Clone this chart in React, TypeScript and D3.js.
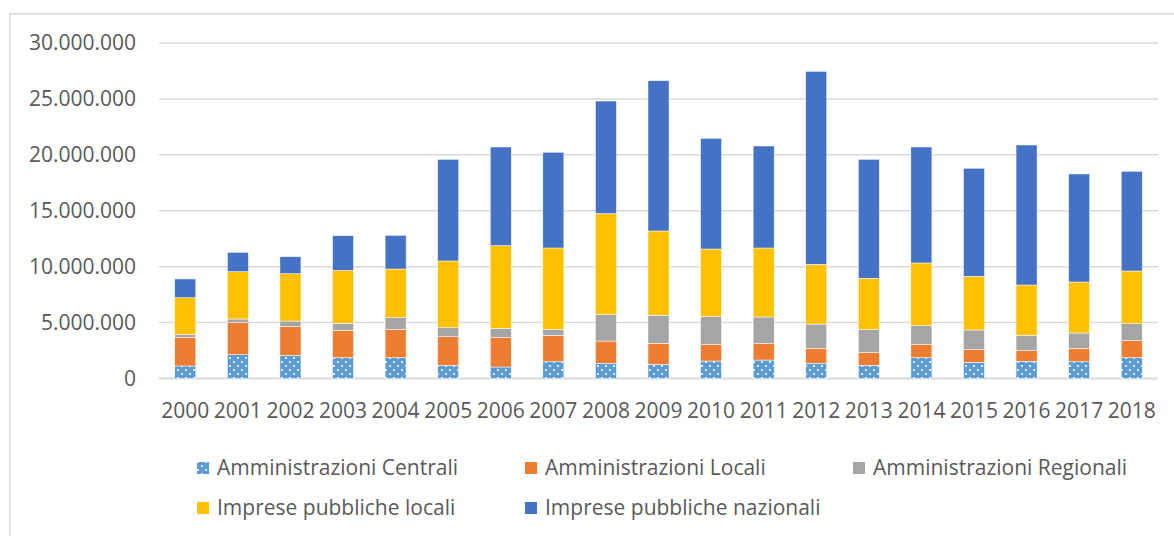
import React from "react";
import * as d3 from "d3";

const years = ["2000","2001","2002","2003","2004","2005","2006","2007","2008","2009","2010","2011","2012","2013","2014","2015","2016","2017","2018"];
const amministrazioniCentrali = [1.12,2.13,2.07,1.86,1.86,1.18,1.03,1.50,1.36,1.27,1.56,1.65,1.36,1.18,1.86,1.45,1.54,1.50,1.86];
const amministrazioniLocali = [2.56,2.86,2.60,2.45,2.54,2.56,2.65,2.36,1.99,1.88,1.50,1.46,1.34,1.16,1.20,1.16,0.95,1.20,1.52];
const amministrazioniRegionali = [0.27,0.33,0.47,0.63,1.04,0.80,0.81,0.54,2.36,2.50,2.50,2.39,2.17,2.06,1.66,1.73,1.37,1.37,1.52];
const impresePubblicheLocali = [3.27,4.23,4.23,4.73,4.35,5.97,7.39,7.27,9.03,7.54,6.02,6.17,5.34,4.56,5.61,4.80,4.50,4.56,4.71];
const impresePubblicheNazionali = [1.68,1.73,1.52,3.10,3.01,9.09,8.82,8.56,10.07,13.44,9.90,9.12,17.26,10.64,10.37,9.66,12.52,9.66,8.92];
const yTicks = [0, 5000000, 10000000, 15000000, 20000000, 25000000, 30000000];

const seriesNames = ["Amministrazioni Centrali","Amministrazioni Locali","Amministrazioni Regionali","Imprese pubbliche locali","Imprese pubbliche nazionali"];
const seriesValues = [amministrazioniCentrali, amministrazioniLocali, amministrazioniRegionali, impresePubblicheLocali, impresePubblicheNazionali];
const colors = ["url(#dots)", "#ED7D31", "#A5A5A5", "#FFC000", "#4472C4"];

const W = 1174, H = 536;
const plotLeft = 159, plotRight = 1158, plotTop = 43, plotBottom = 378.5;
const font = "'Open Sans', sans-serif";
const textColor = "#595959";

function fmt(v: number) {
  return v === 0 ? "0" : d3.format(",")(v).replace(/,/g, ".");
}

export default function App() {
  const x = d3.scaleBand().domain(years).range([plotLeft, plotRight]).paddingInner(0.6).paddingOuter(0.3);
  const y = d3.scaleLinear().domain([0, 30000000]).range([plotBottom, plotTop]);

  const rows = years.map((yr, i) => {
    const o: any = { year: yr };
    seriesNames.forEach((n, k) => (o[n] = seriesValues[k][i] * 1e6));
    return o;
  });
  const stacked = d3.stack().keys(seriesNames)(rows);

  const legendItems = seriesNames.map((n, k) => ({
    name: n,
    color: colors[k],
    x: 197 + (k % 3) * 328,
    y: k < 3 ? 468 : 508,
  }));

  return (
    <svg width={W} height={H} style={{ position: "absolute", left: 0, top: 0, background: "#fff" }}>
      <defs>
        <pattern id="dots" width={8} height={8} patternUnits="userSpaceOnUse">
          <rect width={8} height={8} fill="#5B9BD5" />
          <circle cx={2} cy={2} r={1.1} fill="#fff" />
          <circle cx={6} cy={6} r={1.1} fill="#fff" />
        </pattern>
      </defs>
      <rect x={9.75} y={13.75} width={1200} height={600} fill="#fff" stroke="#D9D9D9" strokeWidth={1.5} />
      {yTicks.map((t) => (
        <g key={t}>
          <line x1={plotLeft} x2={plotRight} y1={y(t)} y2={y(t)} stroke="#D9D9D9" strokeWidth={t === 0 ? 2 : 1.5} />
          <text x={136} y={y(t)} dy="0.35em" textAnchor="end" fontFamily={font} fontSize={21} fill={textColor}>
            {fmt(t)}
          </text>
        </g>
      ))}
      {stacked.map((s, k) => (
        <g key={s.key} fill={colors[k]}>
          {s.map((d, i) => (
            <rect
              key={i}
              x={x(years[i])!}
              width={x.bandwidth()}
              y={y(d[1])}
              height={y(d[0]) - y(d[1])}
              stroke="#fff"
              strokeWidth={0.5}
            />
          ))}
        </g>
      ))}
      {years.map((yr) => (
        <text key={yr} x={x(yr)! + x.bandwidth() / 2} y={411} dy="0.35em" textAnchor="middle" fontFamily={font} fontSize={21} fill={textColor}>
          {yr}
        </text>
      ))}
      {legendItems.map((l) => (
        <g key={l.name}>
          <rect x={l.x} y={l.y - 6} width={12} height={12} fill={l.color} />
          <text x={l.x + 20} y={l.y} dy="0.35em" fontFamily={font} fontSize={21} fill={textColor}>
            {l.name}
          </text>
        </g>
      ))}
    </svg>
  );
}
